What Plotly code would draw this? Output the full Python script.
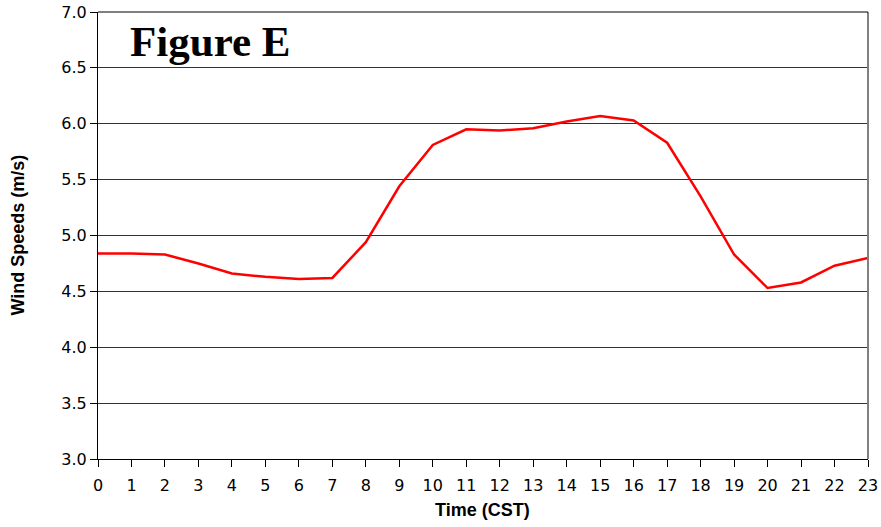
import plotly.graph_objects as go

hours = list(range(24))
wind_speed = [4.84, 4.84, 4.83, 4.75, 4.66, 4.63, 4.61, 4.62, 4.94, 5.44, 5.81, 5.95,
              5.94, 5.96, 6.02, 6.07, 6.03, 5.83, 5.35, 4.83, 4.53, 4.58, 4.73, 4.80]
y_ticks = [3.0, 3.5, 4.0, 4.5, 5.0, 5.5, 6.0, 6.5, 7.0]

W, H = 881, 527
L, R, T, B = 98, 13, 12, 68
pw, ph = W - L - R, H - T - B

fig = go.Figure()
fig.add_trace(go.Scatter(x=hours, y=wind_speed, mode="lines",
                         line=dict(color="#ff0000", width=2.5), showlegend=False))

tickfont = dict(family="DejaVu Sans, Liberation Sans, sans-serif", size=16, color="black")
fig.update_layout(
    width=W, height=H,
    margin=dict(l=L, r=R, t=T, b=B),
    paper_bgcolor="white", plot_bgcolor="white",
    font=dict(family="Liberation Sans, Arial, sans-serif", color="black", size=16),
    xaxis=dict(
        range=[0, 23], tickmode="array", tickvals=hours, ticktext=[str(h) for h in hours],
        showgrid=False, zeroline=False, showline=True, linecolor="black", linewidth=1,
        ticks="outside", ticklen=7, tickcolor="black", automargin=False,
        ticklabelstandoff=5, tickfont=tickfont, ticklabeloverflow="allow",
    ),
    yaxis=dict(
        range=[3, 7], tickmode="array", tickvals=y_ticks,
        ticktext=[f"{v:.1f}" for v in y_ticks], ticksuffix="\u00a0\u00a0",
        showgrid=True, gridcolor="#333333", gridwidth=1, zeroline=False,
        showline=True, linecolor="black", linewidth=1,
        ticks="outside", ticklen=7, tickcolor="black", automargin=False,
        tickfont=tickfont, ticklabeloverflow="allow",
    ),
    shapes=[
        dict(type="line", xref="paper", yref="paper", x0=1, x1=1, y0=0, y1=1,
             line=dict(color="#808080", width=2)),
        dict(type="line", xref="paper", yref="paper", x0=0, x1=1, y0=1, y1=1,
             line=dict(color="black", width=1)),
    ],
    annotations=[
        dict(text="<b>Figure E</b>", xref="paper", yref="paper",
             x=30 / pw, y=1, xanchor="left", yanchor="top", showarrow=False, yshift=-4,
             font=dict(family="Liberation Serif, Times New Roman, serif", size=43, color="black")),
        dict(text="<b>Wind Speeds (m/s)</b>", xref="paper", yref="paper",
             x=(17 - L) / pw, y=0.5, xanchor="center", yanchor="middle", textangle=-90,
             showarrow=False, font=dict(size=18)),
        dict(text="<b>Time (CST)</b>", xref="paper", yref="paper",
             x=(482 - L) / pw, y=-51 / ph, xanchor="center", yanchor="middle",
             showarrow=False, font=dict(size=18)),
    ],
)

fig.write_html("out.html", config={"displayModeBar": False},
               post_script="document.body.style.margin='0px';")
